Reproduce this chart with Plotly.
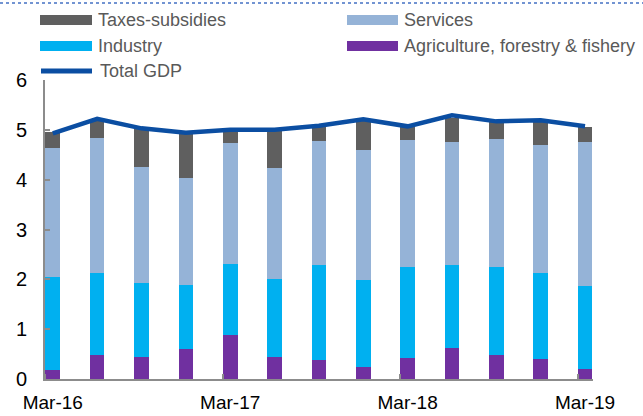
import plotly.graph_objects as go

quarters = ["Mar-16", "Jun-16", "Sep-16", "Dec-16", "Mar-17", "Jun-17", "Sep-17",
            "Dec-17", "Mar-18", "Jun-18", "Sep-18", "Dec-18", "Mar-19"]
agriculture = [0.19, 0.48, 0.45, 0.60, 0.89, 0.45, 0.39, 0.25, 0.43, 0.63, 0.49, 0.41, 0.21]
industry = [1.85, 1.65, 1.48, 1.29, 1.42, 1.56, 1.90, 1.74, 1.82, 1.66, 1.75, 1.72, 1.66]
services = [2.59, 2.70, 2.32, 2.14, 2.43, 2.23, 2.49, 2.60, 2.54, 2.46, 2.57, 2.57, 2.88]
taxes = [0.32, 0.37, 0.77, 0.90, 0.25, 0.75, 0.29, 0.58, 0.26, 0.49, 0.34, 0.49, 0.31]
total_gdp = [4.93, 5.22, 5.03, 4.94, 5.00, 5.00, 5.08, 5.21, 5.07, 5.29, 5.17, 5.19, 5.07]
tick_labels = ["Mar-16", "Mar-17", "Mar-18", "Mar-19"]

C_AGRI = "#7030a0"
C_IND = "#00b0f0"
C_SERV = "#95b3d7"
C_TAX = "#5f5f5f"
C_GDP = "#0b4ea2"

x = list(range(len(quarters)))
tickvals = [quarters.index(t) for t in tick_labels]

W, H = 643, 416
L, R, T, B = 45, 50, 80, 37
pw, ph = W - L - R, H - T - B

def px(v):
    return (v - L) / pw

def py(v):
    return (H - B - v) / ph

fig = go.Figure()
bw = 0.33
for name, vals, col in [("Agriculture, forestry & fishery", agriculture, C_AGRI),
                        ("Industry", industry, C_IND),
                        ("Services", services, C_SERV),
                        ("Taxes-subsidies", taxes, C_TAX)]:
    fig.add_trace(go.Bar(x=x, y=vals, name=name, width=bw,
                         marker=dict(color=col, line=dict(width=0)),
                         showlegend=False))
fig.add_trace(go.Scatter(x=x, y=total_gdp, name="Total GDP", mode="lines",
                         line=dict(color=C_GDP, width=4.5), showlegend=False))

shapes = []
annotations = []
legend_items = [
    ("Taxes-subsidies", C_TAX, "bar", 40, 92, 20),
    ("Services", C_SERV, "bar", 347, 398, 20),
    ("Industry", C_IND, "bar", 40, 92, 46),
    ("Agriculture, forestry & fishery", C_AGRI, "bar", 347, 398, 46),
    ("Total GDP", C_GDP, "line", 39, 94, 71),
]
for name, col, kind, x0, x1, yc in legend_items:
    if kind == "bar":
        shapes.append(dict(type="rect", xref="paper", yref="paper",
                           x0=px(x0), x1=px(x1), y0=py(yc + 5), y1=py(yc - 5),
                           fillcolor=col, line=dict(width=0), layer="above"))
    else:
        shapes.append(dict(type="line", xref="paper", yref="paper",
                           x0=px(x0 + 2), x1=px(x1 - 2), y0=py(yc), y1=py(yc),
                           line=dict(color=col, width=5), layer="above"))
    annotations.append(dict(xref="paper", yref="paper", x=px(x1 + 4), y=py(yc),
                            text=name, showarrow=False, xanchor="left", yanchor="middle",
                            font=dict(size=18, color="#595959",
                                      family="Liberation Sans, Arial, sans-serif")))

# dotted border line at the very top
shapes.append(dict(type="line", xref="paper", yref="paper",
                   x0=px(0), x1=px(W), y0=py(3), y1=py(3),
                   line=dict(color="#4472c4", width=1.5, dash="dot"), layer="above"))

fig.update_layout(
    width=W, height=H,
    margin=dict(l=L, r=R, t=T, b=B),
    barmode="stack",
    bargap=0,
    plot_bgcolor="white", paper_bgcolor="white",
    font=dict(family="Liberation Sans, Arial, sans-serif", color="#000000"),
    shapes=shapes,
    annotations=annotations,
    showlegend=False,
    xaxis=dict(range=[-0.176, 12.18], tickvals=tickvals, ticktext=tick_labels,
               ticks="", showline=True, linecolor="#8c8c8c", linewidth=2,
               showgrid=False, zeroline=False, tickfont=dict(size=19),
               ticklabelstandoff=5, automargin=False,
               minor=dict(tickvals=[v - bw / 2 for v in tickvals], ticks="inside",
                          ticklen=5, tickcolor="#8c8c8c", tickwidth=1.5)),
    yaxis=dict(range=[0, 6], dtick=1, ticks="inside", ticklen=5, tickcolor="#8c8c8c",
               tickwidth=1.5, showline=True, linecolor="#8c8c8c", linewidth=2,
               showgrid=False, zeroline=False, tickfont=dict(size=20),
               ticklabelstandoff=12, automargin=False),
)

fig.write_html("out.html", config={"displayModeBar": False},
               post_script="document.body.style.margin='0';document.body.style.overflow='hidden';")
